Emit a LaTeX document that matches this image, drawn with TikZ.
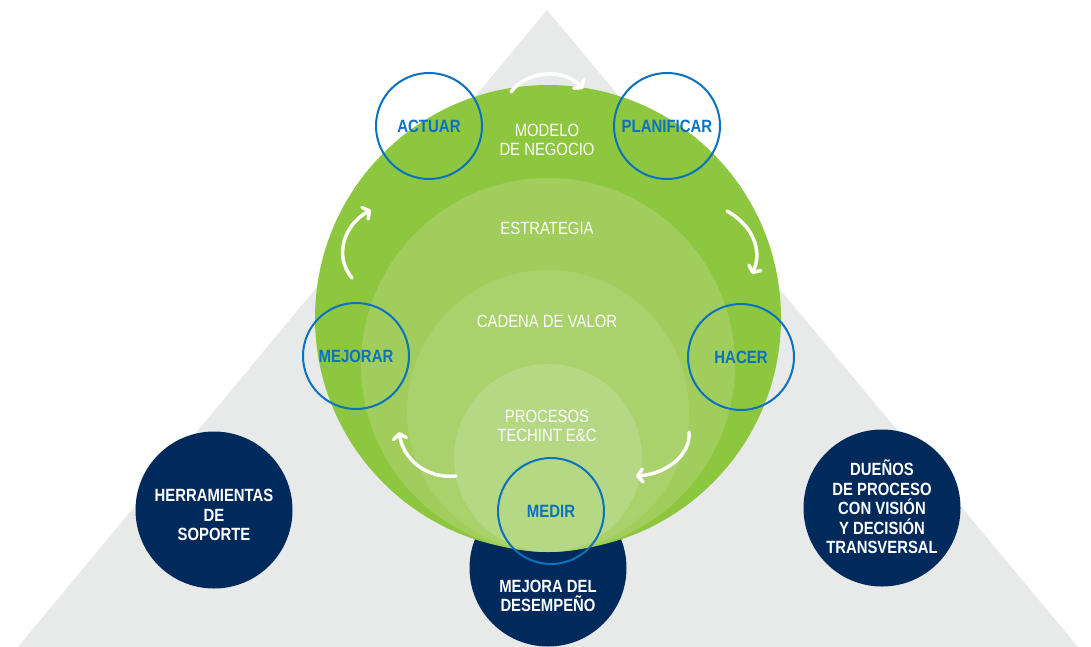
\documentclass[tikz,border=0pt]{standalone}
\usepackage{fontspec}
\setmainfont[FakeStretch=0.84]{Liberation Sans}
\usetikzlibrary{arrows.meta}
\definecolor{bggray}{HTML}{E8E9E9}
\definecolor{g1}{HTML}{8DC63F}
\definecolor{g2}{HTML}{A0CD5B}
\definecolor{g3}{HTML}{A9D16C}
\definecolor{g4}{HTML}{B5D885}
\definecolor{navy}{HTML}{002A5C}
\definecolor{cblue}{HTML}{0A72BF}
\tikzset{
  disc/.style={circle, inner sep=0pt, minimum size=#1},
  ring/.style={circle, draw=cblue, line width=2pt, minimum size=106pt, inner sep=0pt,
    text=cblue, font=\bfseries\fontsize{17.8}{19}\selectfont},
  glabel/.style={text=white, align=center, font=\fontsize{17.7}{19.5}\selectfont},
  nlabel/.style={text=white, align=center, font=\bfseries\fontsize{17.7}{19.5}\selectfont},
  flow/.style={draw=white, line width=3.5pt, line cap=round,
    -{Straight Barb[round,length=5pt,width=13pt]}}
}
\begin{document}
\begin{tikzpicture}[x=1pt,y=-1pt]
\useasboundingbox (0,0) rectangle (1091,647);
\fill[white] (0,0) rectangle (1091,647);
% background triangle
\fill[bggray] (547,10) -- (18,647) -- (1078,647) -- cycle;
% navy discs
\node[disc=157pt, fill=navy] (herr) at (214,510) {};
\node[disc=157pt, fill=navy] (duen) at (882,508) {};
\node[disc=157pt, fill=navy] (mejd) at (548,568) {};
% nested green circles
\node[disc=466pt, fill=g1] (c1) at (548,318) {};
\node[disc=374pt, fill=g2] (c2) at (548,365) {};
\node[disc=282pt, fill=g3] (c3) at (548,411) {};
\node[disc=188pt, fill=g4] (c4) at (548,458) {};
% green labels
\node[glabel] (lmod) at (547,140) {MODELO\\DE NEGOCIO};
\node[glabel] (lest) at (547,228) {ESTRATEGIA};
\node[glabel] (lcad) at (547,321) {CADENA DE VALOR};
\node[glabel] (lpro) at (547,426) {PROCESOS\\TECHINT E\&C};
% navy labels
\node[nlabel] (lherr) at (214,515) {HERRAMIENTAS\\DE\\SOPORTE};
\node[nlabel] (lduen) at (882,507) {DUEÑOS\\DE PROCESO\\CON VISIÓN\\Y DECISIÓN\\TRANSVERSAL};
\node[nlabel] (lmejd) at (548,596) {MEJORA DEL\\DESEMPEÑO};
% cycle rings
\node[ring] (actuar) at (429,126) {ACTUAR};
\node[ring] (plan) at (667,126) {PLANIFICAR};
\node[ring] (hacer) at (741,357) {HACER};
\node[ring] (medir) at (551,511) {MEDIR};
\node[ring] (mejorar) at (356,356) {MEJORAR};
% arrow end points
\coordinate (a1s) at (511,92);  \coordinate (a1e) at (583,89);
\coordinate (a2s) at (727,211); \coordinate (a2e) at (752,274);
\coordinate (a3s) at (689,432); \coordinate (a3e) at (636,476);
\coordinate (a4s) at (456,476); \coordinate (a4e) at (399,432);
\coordinate (a5s) at (352,278); \coordinate (a5e) at (371,210);
\draw[flow] (a1s) .. controls (527,70) and (565,68) .. (a1e);
\draw[flow] (a2s) .. controls (752,225) and (763,250) .. (a2e);
\draw[flow] (a3s) .. controls (691,455) and (666,474) .. (a3e);
\draw[flow] (a4s) .. controls (425,479) and (403,458) .. (a4e);
\draw[flow] (a5s) .. controls (333,255) and (345,224) .. (a5e);
\end{tikzpicture}
\end{document}
